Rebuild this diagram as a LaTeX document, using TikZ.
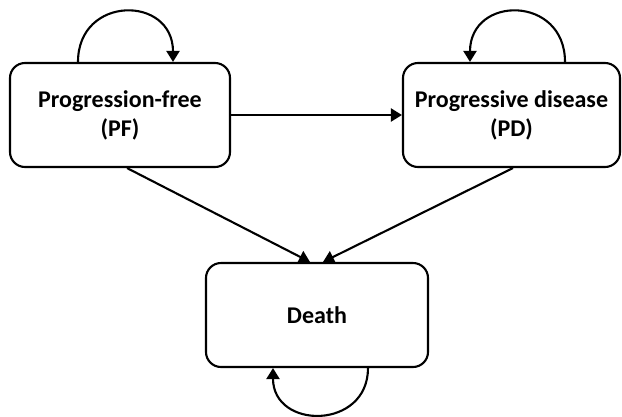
\documentclass[tikz,border=0pt]{standalone}
\usepackage{fontspec}
\setmainfont{Carlito}
\usetikzlibrary{arrows.meta}
\begin{document}
\begin{tikzpicture}[x=1pt,y=-1pt,
  statebox/.style={draw=black, line width=2.1pt, rounded corners=15pt, minimum width=220pt, minimum height=104pt, align=center, inner sep=0pt, font=\fontsize{24}{29}\selectfont\bfseries},
  arr/.style={line width=2.1pt, -{Triangle[length=11pt,width=13pt]}}]
\useasboundingbox (0,0) rectangle (622,416);
\node[statebox] (pf) at (120,115) {Progression-free\\(PF)};
\node[statebox, minimum width=217pt] (pd) at (511.5,115) {Progressive disease\\(PD)};
\node[statebox, minimum width=222pt] (death) at (317,315) {Death};
\draw[arr] (pf.east) -- (pd.west);
\draw[arr] ([xshift=7pt]pf.south) -- ([xshift=-7pt]death.north);
\draw[arr] ([xshift=1.5pt]pd.south) -- ([xshift=6pt]death.north);
\draw[arr] ([xshift=-42pt]pf.north) .. controls +(0,-67) and +(0,-67) .. ([xshift=53pt]pf.north);
\draw[arr] ([xshift=53.5pt]pd.north) .. controls +(0,-67) and +(0,-67) .. ([xshift=-41.5pt]pd.north);
\draw[arr] ([xshift=51pt]death.south) .. controls +(0,62) and +(0,62) .. ([xshift=-44pt]death.south);
\end{tikzpicture}
\end{document}
